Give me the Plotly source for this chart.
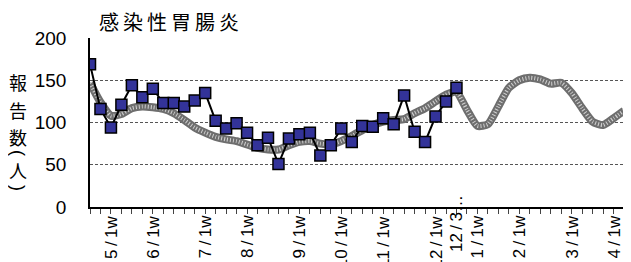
import plotly.graph_objects as go

# Week categories (0..51), labels shown only at some
weeks = list(range(52))
tick_positions = [2, 6, 11, 15, 20, 24, 28, 33, 35, 37, 41, 46, 50]
tick_labels = ["5/1w", "6/1w", "7/1w", "8/1w", "9/1w", "10/1w", "11/1w",
               "12/1w", "12/3…", "1/1w", "2/1w", "3/1w", "4/1w"]

# Current season reports (blue squares)
current = [169, 116, 94, 121, 144, 130, 140, 123, 123, 119, 126, 135, 102, 93,
           99, 88, 73, 82, 51, 81, 86, 88, 61, 73, 93, 77, 96, 95, 105, 98,
           132, 89, 77, 107, 125, 141]

# Past-years average (gray band)
average = [147, 124, 108, 110, 117, 119, 118, 116, 111, 103, 94, 88, 83, 80,
           78, 74, 70, 68, 68, 73, 77, 78, 75, 74, 78, 84, 91, 97, 101, 103,
           104, 111, 117, 125, 133, 136, 115, 96, 98, 119, 141, 150, 153, 151,
           146, 147, 135, 117, 101, 97, 105, 114]

title_text = "感\u2009染\u2009性\u2009胃\u2009腸\u2009炎"
ytitle_chars = ["報", "告", "数", "(", "人", ")"]

# geometry (figure pixels; page has an 8px body margin)
W, H = 623, 254
L, R, T, B = 82, 7, 30, 55
PH = H - T - B
PW = W - L - R

fig = go.Figure()
fig.add_trace(go.Scatter(x=weeks, y=average, mode="lines",
                         line=dict(color="#6e6e6e", width=8, shape="spline", smoothing=0.6),
                         hoverinfo="skip", showlegend=False))
fig.add_trace(go.Scatter(x=weeks, y=average, mode="lines",
                         line=dict(color="#d0d0d0", width=4, dash="1px,2px", shape="spline", smoothing=0.6),
                         hoverinfo="skip", showlegend=False))
fig.add_trace(go.Scatter(x=weeks[:len(current)], y=current, mode="lines+markers",
                         line=dict(color="black", width=2),
                         marker=dict(symbol="square", size=11, color="#333399",
                                     line=dict(color="black", width=1.5)),
                         showlegend=False))

font_family = "Liberation Sans, Arial, Noto Sans CJK JP, sans-serif"

fig.update_layout(
    width=W, height=H,
    margin=dict(l=L, r=R, t=T, b=B),
    paper_bgcolor="white", plot_bgcolor="white",
    font=dict(family=font_family, color="black"),
    xaxis=dict(range=[0, 51], showgrid=False, zeroline=False,
               showline=True, linecolor="black", linewidth=1.5,
               tickmode="linear", tick0=0, dtick=1, ticks="outside",
               ticklen=5, tickcolor="#444", showticklabels=False),
    yaxis=dict(range=[0, 200], tickvals=[0, 50, 100, 150, 200],
               showgrid=True, gridcolor="#555", griddash="3px,2px", gridwidth=1,
               zeroline=False, showline=True, linecolor="black", linewidth=1.5,
               ticks="", tickfont=dict(size=19, family=font_family),
               ticklabelstandoff=18),
)

# right border
fig.add_shape(type="line", xref="paper", yref="paper", x0=1, x1=1, y0=0, y1=1,
              line=dict(color="#444", width=1.5))

# title
fig.add_annotation(text=title_text, xref="paper", yref="paper",
                   x=(89 - L) / PW, y=1 + (T - 13.7) / PH,
                   xanchor="left", yanchor="middle", showarrow=False,
                   font=dict(size=20, family="Noto Sans CJK JP"))

# y-axis title as stacked characters
y_px = [74, 102, 129, 145, 162, 180]
for ch, yp in zip(ytitle_chars, y_px):
    rot = 90 if ch in "()" else 0
    fam = "Liberation Sans" if ch in "()" else "Noto Sans CJK JP"
    fig.add_annotation(text=ch, xref="paper", yref="paper",
                       x=(10 - L) / PW, y=(T + PH - yp) / PH,
                       xanchor="center", yanchor="middle", showarrow=False,
                       textangle=rot,
                       font=dict(size=18, family=fam))

# x tick labels rotated (slash drawn with thin spaces, like the reference)
for pos, lab in zip(tick_positions, tick_labels):
    ysh = -6.5
    if lab.startswith("12/3"):
        ysh = 14
    shown = lab.replace("/", "\u2009/\u2009")
    fig.add_annotation(text=shown, x=pos, xref="x", yref="paper", y=0,
                       yshift=ysh, xanchor="center", yanchor="top",
                       textangle=-90, showarrow=False,
                       font=dict(size=17, family=font_family))

fig.write_html("out.html")
